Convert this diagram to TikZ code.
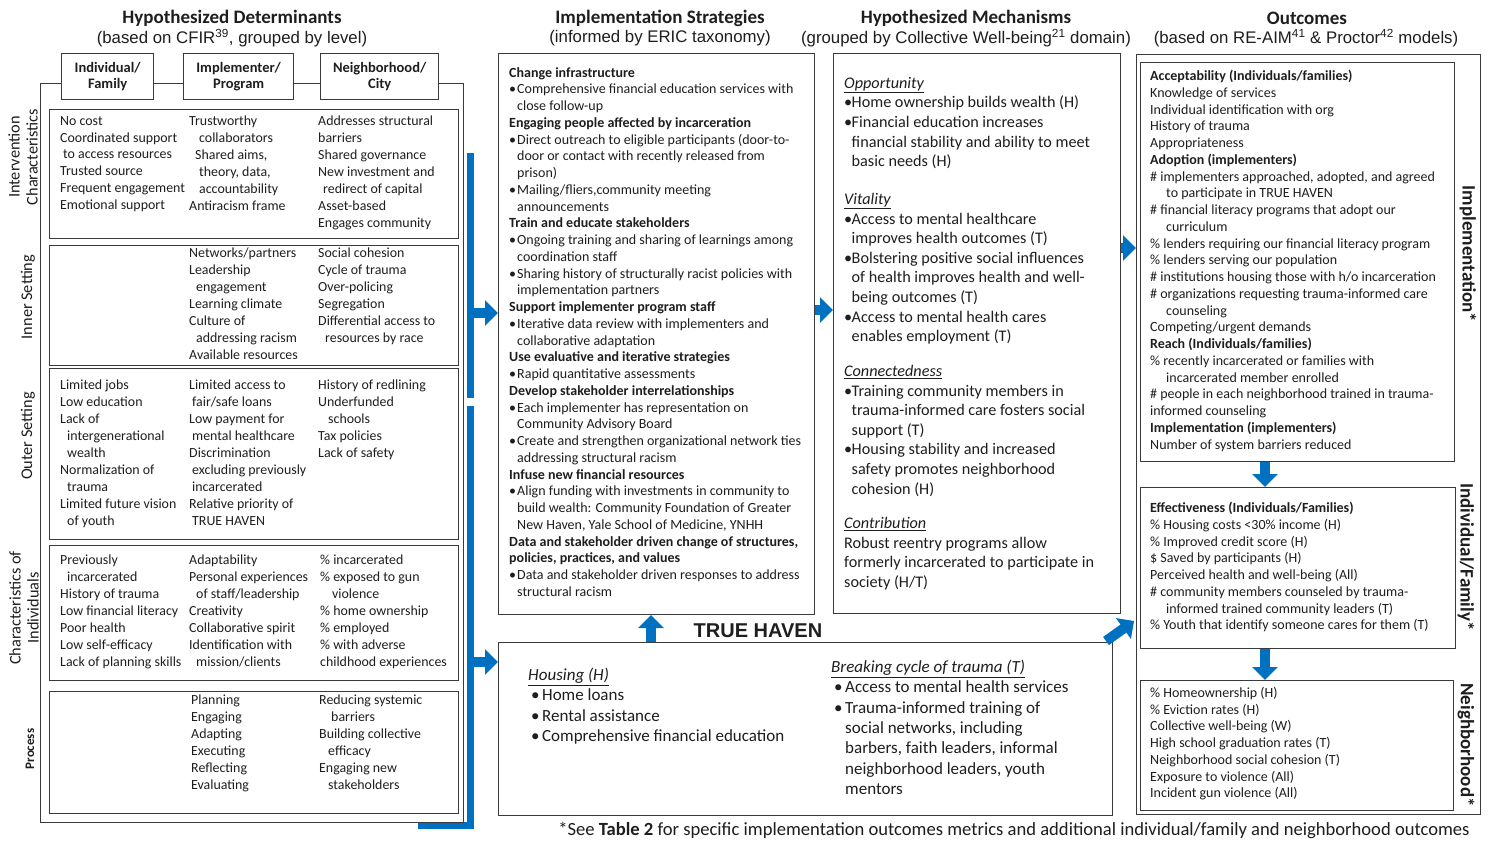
\documentclass[tikz,border=0pt]{standalone}
\usepackage{fontspec}
\setmainfont{Carlito}
\newfontfamily\arialf{Liberation Sans}
\usetikzlibrary{arrows.meta}
\definecolor{tblue}{HTML}{0070C0}
\definecolor{ink}{HTML}{1E1E1E}
\definecolor{edge}{HTML}{3A3A3A}
\newcommand\myind{\hspace*{7pt}}
\newcommand\sind{\hspace*{8pt}}
\newcommand\myoind{\hspace*{16pt}}
\newcommand\sbul{\makebox[8pt][l]{•}}
\newcommand\mbul{\makebox[7.5pt][l]{•}}
\newcommand\hbul{\hspace*{3pt}\makebox[11pt][l]{•}}
\newcommand\hd[1]{\underline{\textit{#1}}}
\begin{document}
\begin{tikzpicture}[x=1pt,y=-1pt,
  frame/.style={draw=edge, line width=1.1pt, inner sep=0pt, anchor=north west},
  hdrbox/.style={frame, fill=white, line width=1.3pt, align=center, text=ink, font=\fontsize{14.5}{16}\selectfont\bfseries},
  col/.style={anchor=north west, inner sep=0pt, align=left, text=ink, font=\fontsize{13.9}{16.9}\selectfont},
  small/.style={anchor=north west, inner sep=0pt, align=left, text=ink, font=\fontsize{14}{16.75}\selectfont},
  big/.style={anchor=north west, inner sep=0pt, align=left, text=ink, font=\fontsize{16.2}{19.6}\selectfont},
  th/.style={anchor=north west, inner sep=0pt, align=left, text=ink, font=\fontsize{17}{20.3}\selectfont},
  rowlab/.style={rotate=90, inner sep=0pt, align=center, text=ink, font=\fontsize{16.3}{18}\selectfont},
  sidelab/.style={rotate=-90, inner sep=0pt, text=ink, font=\fontsize{19}{20}\selectfont\bfseries},
  title/.style={inner sep=0pt, text=ink, font=\fontsize{19}{21}\selectfont\bfseries},
  subtitle/.style={inner sep=0pt, text=ink, font=\arialf\fontsize{16.8}{19}\selectfont},
  barrow/.style={draw=tblue, line width=10pt, -{Triangle[length=13pt,width=25pt]}},
  bar/.style={draw=tblue, line width=7pt},
]
\useasboundingbox (0,0) rectangle (1488,842);
\fill[white] (0,0) rectangle (1488,842);

% titles
\node[title] (t1) at (232,18) {Hypothesized Determinants};
\node[subtitle] (s1) at (232,38) {(based on CFIR\textsuperscript{39}, grouped by level)};
\node[title] (t2) at (660,18) {Implementation Strategies};
\node[subtitle] (s2) at (660,38) {(informed by ERIC taxonomy)};
\node[title] (t3) at (966,18) {Hypothesized Mechanisms};
\node[subtitle] (s3) at (966,38) {(grouped by Collective Well-being\textsuperscript{21} domain)};
\node[title] (t4) at (1307,18) {Outcomes};
\node[subtitle] (s4) at (1306,38) {(based on RE-AIM\textsuperscript{41} \& Proctor\textsuperscript{42} models)};

% blue bracket
\draw[bar] (470,153) -- (470,398);
\draw[bar, line join=miter] (470,406) -- (470,825) -- (418,825);

% determinants
\node[frame, minimum width=423pt, minimum height=739pt] (det) at (40,83) {};
\node[hdrbox, minimum width=92pt, minimum height=46pt] (h1) at (61,53) {Individual/\\Family};
\node[hdrbox, minimum width=110pt, minimum height=46pt] (h2) at (183,53) {Implementer/\\Program};
\node[hdrbox, minimum width=118pt, minimum height=46pt] (h3) at (320,53) {Neighborhood/\\City};

\node[frame, minimum width=409pt, minimum height=129pt] (ic) at (49,109) {};
\node[frame, minimum width=409pt, minimum height=120pt] (is) at (49,245) {};
\node[frame, minimum width=409pt, minimum height=171pt] (os) at (49,368) {};
\node[frame, minimum width=409pt, minimum height=135pt] (ci) at (49,545) {};
\node[frame, minimum width=409pt, minimum height=122pt] (pr) at (49,691) {};

\node[rowlab] (r1) at (23,157) {Intervention\\Characteristics};
\node[rowlab] (r2) at (28,297) {Inner Setting};
\node[rowlab] (r3) at (28,436) {Outer Setting};
\node[rowlab] (r4) at (24,608) {Characteristics of\\Individuals};
\node[rowlab, font=\fontsize{13}{14}\selectfont\bfseries] (r5) at (30,749) {Process};

\node[col] (ic1) at (60,116) {No cost\\Coordinated support\\\hspace*{3pt}to access resources\\Trusted source\\Frequent engagement\\Emotional support};
\node[col] (ic2) at (189,116) {Trustworthy\\\hspace*{10pt}collaborators\\\hspace*{6pt}Shared aims,\\\hspace*{10pt}theory, data,\\\hspace*{10pt}accountability\\Antiracism frame};
\node[col] (ic3) at (318,116) {Addresses structural\\barriers\\Shared governance\\New investment and\\\hspace*{5pt}redirect of capital\\Asset-based\\Engages community};

\node[col] (is2) at (189,248) {Networks/partners\\Leadership\\\myind engagement\\Learning climate\\Culture of\\\myind addressing racism\\Available resources};
\node[col] (is3) at (318,248) {Social cohesion\\Cycle of trauma\\Over-policing\\Segregation\\Differential access to\\\myind resources by race};

\node[col] (os1) at (60,380) {Limited jobs\\Low education\\Lack of\\\myind intergenerational\\\myind wealth\\Normalization of\\\myind trauma\\Limited future vision\\\myind of youth};
\node[col] (os2) at (189,380) {Limited access to\\\hspace*{3pt}fair/safe loans\\Low payment for\\\hspace*{3pt}mental healthcare\\Discrimination\\\hspace*{3pt}excluding previously\\\hspace*{3pt}incarcerated\\Relative priority of\\\hspace*{3pt}TRUE HAVEN};
\node[col] (os3) at (318,380) {History of redlining\\Underfunded\\\hspace*{10pt}schools\\Tax policies\\Lack of safety};

\node[col] (ci1) at (60,555) {Previously\\\myind incarcerated\\History of trauma\\Low financial literacy\\Poor health\\Low self-efficacy\\Lack of planning skills};
\node[col] (ci2) at (189,555) {Adaptability\\Personal experiences\\\myind of staff/leadership\\Creativity\\Collaborative spirit\\Identification with\\\myind mission/clients};
\node[col] (ci3) at (320,555) {\% incarcerated\\\% exposed to gun\\\hspace*{12pt}violence\\\% home ownership\\\% employed\\\% with adverse\\childhood experiences};

\node[col] (pr2) at (191,695) {Planning\\Engaging\\Adapting\\Executing\\Reflecting\\Evaluating};
\node[col] (pr3) at (319,695) {Reducing systemic\\\hspace*{12pt}barriers\\Building collective\\\hspace*{9pt}efficacy\\Engaging new\\\hspace*{9pt}stakeholders};

% strategies
\node[frame, minimum width=316pt, minimum height=561pt] (strat) at (498,53) {};
\node[small] (stxt) at (509,67) {\textbf{Change infrastructure}\\
\sbul Comprehensive financial education services with\\
\sind close follow-up\\
\textbf{Engaging people affected by incarceration}\\
\sbul Direct outreach to eligible participants (door-to-\\
\sind door or contact with recently released from\\
\sind prison)\\
\sbul Mailing/fliers,community meeting\\
\sind announcements\\
\textbf{Train and educate stakeholders}\\
\sbul Ongoing training and sharing of learnings among\\
\sind coordination staff\\
\sbul Sharing history of structurally racist policies with\\
\sind implementation partners\\
\textbf{Support implementer program staff}\\
\sbul Iterative data review with implementers and\\
\sind collaborative adaptation\\
\textbf{Use evaluative and iterative strategies}\\
\sbul Rapid quantitative assessments\\
\textbf{Develop stakeholder interrelationships}\\
\sbul Each implementer has representation on\\
\sind Community Advisory Board\\
\sbul Create and strengthen organizational network ties\\
\sind addressing structural racism\\
\textbf{Infuse new financial resources}\\
\sbul Align funding with investments in community to\\
\sind build wealth: Community Foundation of Greater\\
\sind New Haven, Yale School of Medicine, YNHH\\
\textbf{Data and stakeholder driven change of structures,}\\
\textbf{policies, practices, and values}\\
\sbul Data and stakeholder driven responses to address\\
\sind structural racism};

% mechanisms
\node[frame, minimum width=287pt, minimum height=560pt] (mech) at (833,53) {};
\node[big] (m1) at (844,77) {\hd{Opportunity}\\\mbul Home ownership builds wealth (H)\\\mbul Financial education increases\\\hspace*{7.5pt}financial stability and ability to meet\\\hspace*{7.5pt}basic needs (H)};
\node[big] (m2) at (844,193) {\hd{Vitality}\\\mbul Access to mental healthcare\\\hspace*{7.5pt}improves health outcomes (T)\\\mbul Bolstering positive social influences\\\hspace*{7.5pt}of health improves health and well-\\\hspace*{7.5pt}being outcomes (T)\\\mbul Access to mental health cares\\\hspace*{7.5pt}enables employment (T)};
\node[big] (m3) at (844,365) {\hd{Connectedness}\\\mbul Training community members in\\\hspace*{7.5pt}trauma-informed care fosters social\\\hspace*{7.5pt}support (T)\\\mbul Housing stability and increased\\\hspace*{7.5pt}safety promotes neighborhood\\\hspace*{7.5pt}cohesion (H)};
\node[big] (m4) at (844,517) {\hd{Contribution}\\Robust reentry programs allow\\formerly incarcerated to participate in\\society (H/T)};

% outcomes
\node[frame, minimum width=344pt, minimum height=760pt] (outc) at (1136,54) {};
\node[frame, minimum width=314pt, minimum height=399pt] (oimpl) at (1140,62) {};
\node[frame, minimum width=315pt, minimum height=161pt] (oind) at (1140,487) {};
\node[frame, minimum width=313pt, minimum height=130pt] (onb) at (1140,680) {};
\node[small] (o1) at (1150,70) {\textbf{Acceptability (Individuals/families)}\\
Knowledge of services\\
Individual identification with org\\
History of trauma\\
Appropriateness\\
\textbf{Adoption (implementers)}\\
\# implementers approached, adopted, and agreed\\
\myoind to participate in TRUE HAVEN\\
\# financial literacy programs that adopt our\\
\myoind curriculum\\
\% lenders requiring our financial literacy program\\
\% lenders serving our population\\
\# institutions housing those with h/o incarceration\\
\# organizations requesting trauma-informed care\\
\myoind counseling\\
Competing/urgent demands\\
\textbf{Reach (Individuals/families)}\\
\% recently incarcerated or families with\\
\myoind incarcerated member enrolled\\
\# people in each neighborhood trained in trauma-\\
informed counseling\\
\textbf{Implementation (implementers)}\\
Number of system barriers reduced};
\node[small] (o2) at (1150,502) {\textbf{Effectiveness (Individuals/Families)}\\
\% Housing costs <30\% income (H)\\
\% Improved credit score (H)\\
\$ Saved by participants (H)\\
Perceived health and well-being (All)\\
\# community members counseled by trauma-\\
\myoind informed trained community leaders (T)\\
\% Youth that identify someone cares for them (T)};
\node[small] (o3) at (1150,687) {\% Homeownership (H)\\\% Eviction rates (H)\\Collective well-being (W)\\High school graduation rates (T)\\Neighborhood social cohesion (T)\\Exposure to violence (All)\\Incident gun violence (All)};
\node[sidelab] (l1) at (1468,254) {Implementation*};
\node[sidelab] (l2) at (1466,557) {Individual/Family*};
\node[sidelab] (l3) at (1466,745) {Neighborhood*};

% TRUE HAVEN
\node[frame, minimum width=614pt, minimum height=173pt] (th) at (498,642) {};
\node[inner sep=0pt, text=ink, font=\arialf\fontsize{20}{22}\selectfont\bfseries] (thl) at (758,631) {TRUE HAVEN};
\node[th] (hous) at (528,668) {\hd{Housing (H)}\\\hbul Home loans\\\hbul Rental assistance\\\hbul Comprehensive financial education};
\node[th] (brk) at (831,660) {\hd{Breaking cycle of trauma (T)}\\\hbul Access to mental health services\\\hbul Trauma-informed training of\\\hspace*{14pt}social networks, including\\\hspace*{14pt}barbers, faith leaders, informal\\\hspace*{14pt}neighborhood leaders, youth\\\hspace*{14pt}mentors};

% footer
\node[inner sep=0pt, text=ink, font=\fontsize{18.6}{20}\selectfont] (foot) at (1014,830) {*See \textbf{Table 2} for specific implementation outcomes metrics and additional individual/family and neighborhood outcomes};

% arrows
\coordinate (bu) at (470,313);
\coordinate (bl) at (470,662);
\coordinate (sm) at (0,310);
\coordinate (mo) at (0,248);
\coordinate (ts) at (651,0);
\coordinate (od) at (1265,0);
\coordinate (dg) at (1106,641);
\coordinate (dgt) at (1134,621);
\draw[barrow] (bu) -- (strat.west |- bu);
\draw[barrow] (bl) -- (th.west |- bl);
\draw[barrow] (strat.east |- sm) -- (mech.west |- sm);
\draw[barrow] (mech.east |- mo) -- (outc.west |- mo);
\draw[barrow] (th.north -| ts) -- (strat.south -| ts);
\draw[barrow] (oimpl.south -| od) -- (oind.north -| od);
\draw[barrow] (oind.south -| od) -- (onb.north -| od);
\draw[barrow] (dg) -- (dgt);
\end{tikzpicture}
\end{document}
